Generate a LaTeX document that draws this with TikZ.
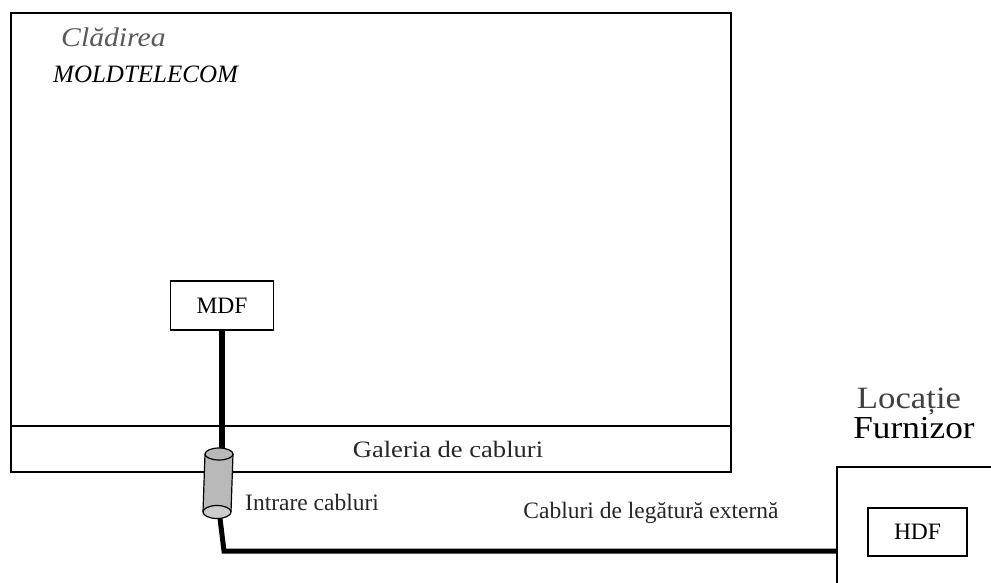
\documentclass[tikz,border=0pt]{standalone}
\usepackage{fontspec}
\setmainfont{Liberation Serif}
\begin{document}
\begin{tikzpicture}[x=1pt,y=-1pt,
  frame/.style={draw=black,line width=1.6pt},
  boxnode/.style={draw=black,line width=1.5pt,inner sep=0pt,font=\fontsize{23.5}{26}\selectfont},
  cable/.style={draw=black,line width=5.5pt},
  lbl/.style={inner sep=0pt,font=\fontsize{23.5}{26}\selectfont,text=black!85}]
\useasboundingbox (0,0) rectangle (991,583);
% building
\draw[frame] (11,13) rectangle (731,472);
\draw[frame] (11,426) -- (731,426);
\node[inner sep=0pt,anchor=base west,font=\fontsize{27}{30}\selectfont\itshape,text=black!65] (cl) at (61,47) {\scalebox{1.1}[1]{Clădirea}};
\node[inner sep=0pt,anchor=base west,font=\fontsize{25}{30}\selectfont\itshape] (mt) at (53,83) {MOLDTELECOM};
\node[lbl,anchor=base] (gal) at (448,457) {\scalebox{1.13}[1]{Galeria de cabluri}};
% MDF
\node[boxnode,minimum width=103pt,minimum height=49pt] (mdf) at (222,305.5) {MDF};
% provider
\draw[frame] (991,467) -- (837,467) -- (837,583);
\coordinate (prov) at (837,551);
\node[boxnode,minimum width=99pt,minimum height=48pt] (hdf) at (917.5,532) {HDF};
\node[inner sep=0pt,anchor=base,font=\fontsize{31}{34}\selectfont,text=black!75] (loc) at (909,408) {\scalebox{1.12}[1]{Locație}};
\node[inner sep=0pt,anchor=base,font=\fontsize{32}{34}\selectfont] (fur) at (914,438) {\scalebox{1.1}[1]{Furnizor}};
% cable entry cylinder
\coordinate (cyltop) at (219,454);
\coordinate (cylbot) at (217,512);
\coordinate (bend) at (224,551);
\draw[cable] (mdf.south) -- (mdf.south |- cyltop);
\fill[gray!55] (205,454) -- (203,512) arc[start angle=180,end angle=360,x radius=14,y radius=6.5] -- (233,454) -- cycle;
\draw[line width=1.2pt] (205,454) -- (203,512);
\draw[line width=1.2pt] (233,454) -- (231,512);
\draw[line width=1.2pt,fill=gray!55] (cyltop) ellipse[x radius=14,y radius=6];
\draw[line width=1.2pt,fill=gray!40] (cylbot) ellipse[x radius=14,y radius=6.5];
\draw[cable,line width=5pt,line join=miter] (220,518.5) -- (bend) -- (prov);
\node[lbl,anchor=base west] (intr) at (245,510) {Intrare cabluri};
\node[lbl,anchor=base] (ext) at (651,518) {Cabluri de legătură externă};
\end{tikzpicture}
\end{document}
